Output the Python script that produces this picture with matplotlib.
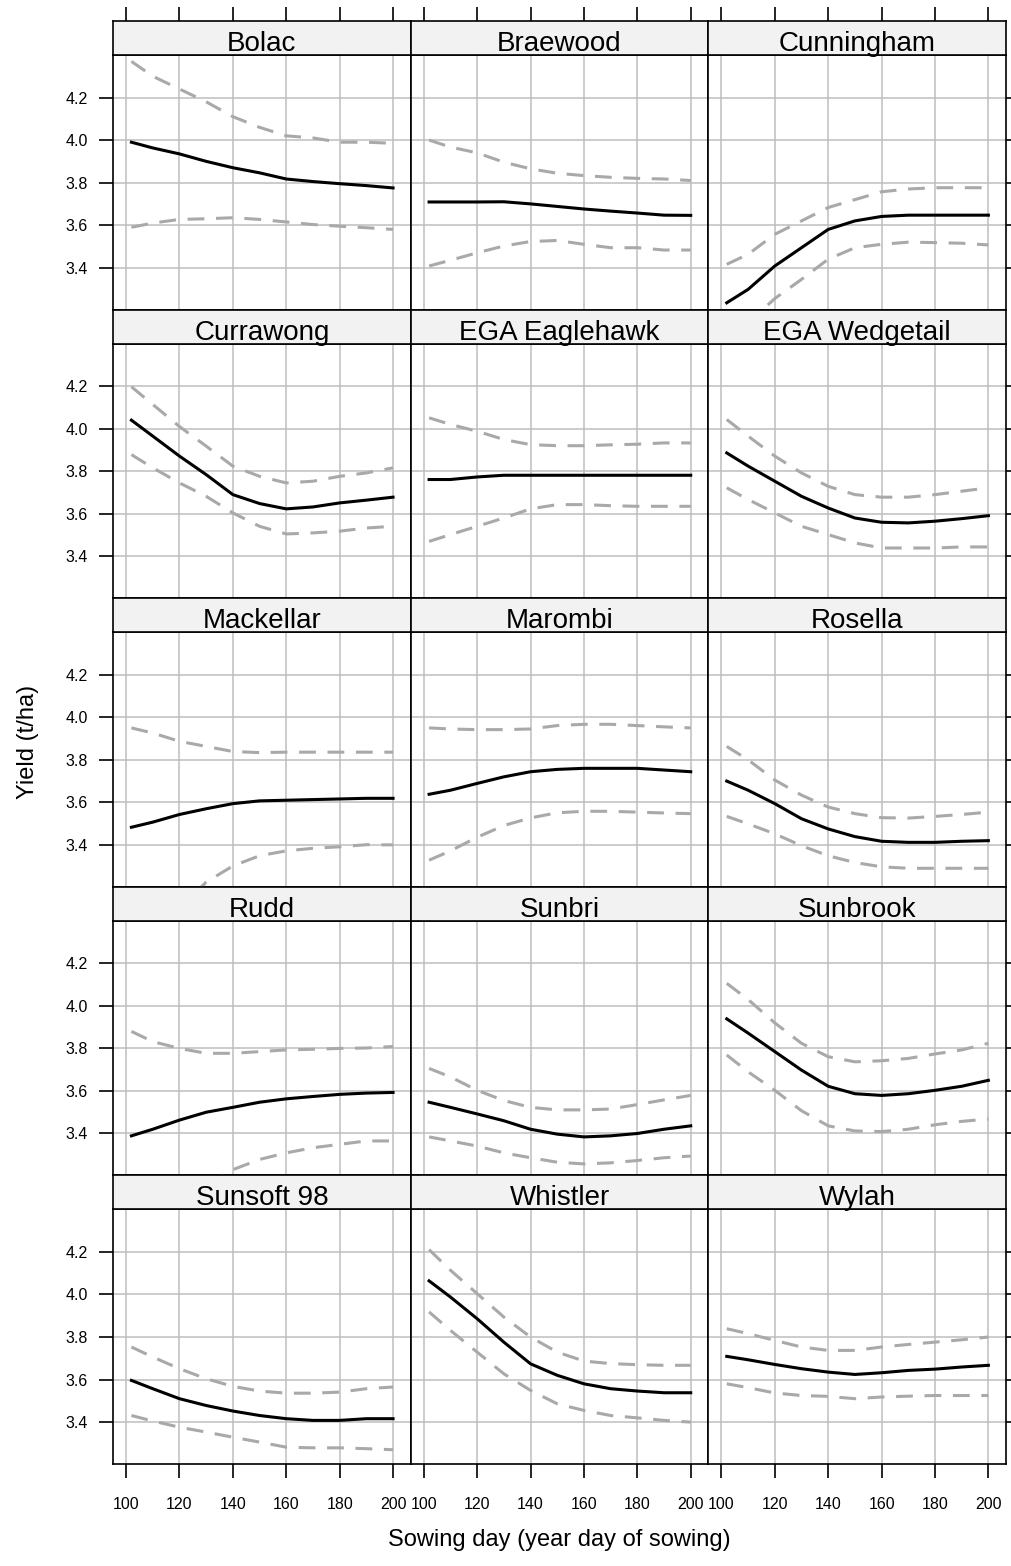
import matplotlib.pyplot as plt

plt.rcParams['font.family'] = ['Liberation Sans', 'DejaVu Sans']

# sowing days where the fitted curves were read
days = [102, 110, 120, 130, 140, 150, 160, 170, 180, 190, 200]

varieties = ['Bolac', 'Braewood', 'Cunningham',
             'Currawong', 'EGA Eaglehawk', 'EGA Wedgetail',
             'Mackellar', 'Marombi', 'Rosella',
             'Rudd', 'Sunbri', 'Sunbrook',
             'Sunsoft 98', 'Whistler', 'Wylah']

# fitted yield (t/ha)
fit = [
    [3.99, 3.963, 3.935, 3.90, 3.87, 3.846, 3.817, 3.805, 3.795, 3.786, 3.775],
    [3.709, 3.709, 3.709, 3.71, 3.70, 3.688, 3.676, 3.666, 3.657, 3.647, 3.646],
    [3.235, 3.298, 3.408, 3.494, 3.58, 3.62, 3.641, 3.647, 3.647, 3.647, 3.647],
    [4.04, 3.965, 3.871, 3.784, 3.69, 3.648, 3.623, 3.632, 3.651, 3.664, 3.678],
    [3.761, 3.761, 3.773, 3.781, 3.781, 3.781, 3.781, 3.781, 3.781, 3.781, 3.781],
    [3.886, 3.824, 3.753, 3.682, 3.627, 3.58, 3.56, 3.557, 3.565, 3.577, 3.591],
    [3.483, 3.507, 3.543, 3.57, 3.594, 3.607, 3.61, 3.613, 3.616, 3.619, 3.619],
    [3.638, 3.657, 3.689, 3.72, 3.744, 3.755, 3.76, 3.76, 3.76, 3.752, 3.744],
    [3.70, 3.657, 3.594, 3.523, 3.475, 3.439, 3.417, 3.412, 3.412, 3.417, 3.42],
    [3.389, 3.42, 3.463, 3.50, 3.523, 3.547, 3.563, 3.574, 3.584, 3.59, 3.593],
    [3.547, 3.523, 3.492, 3.46, 3.42, 3.397, 3.384, 3.389, 3.40, 3.42, 3.436],
    [3.939, 3.872, 3.785, 3.698, 3.622, 3.587, 3.579, 3.587, 3.603, 3.622, 3.65],
    [3.596, 3.557, 3.51, 3.478, 3.452, 3.431, 3.416, 3.408, 3.408, 3.416, 3.416],
    [4.064, 3.988, 3.886, 3.776, 3.674, 3.62, 3.58, 3.557, 3.546, 3.538, 3.538],
    [3.709, 3.693, 3.671, 3.651, 3.635, 3.624, 3.632, 3.643, 3.649, 3.659, 3.667],
]

# upper confidence limit
upper = [
    [4.37, 4.30, 4.24, 4.18, 4.11, 4.06, 4.02, 4.01, 3.99, 3.99, 3.985],
    [4.0, 3.967, 3.94, 3.896, 3.865, 3.844, 3.833, 3.825, 3.82, 3.817, 3.81],
    [3.416, 3.463, 3.557, 3.62, 3.683, 3.72, 3.757, 3.77, 3.776, 3.776, 3.776],
    [4.197, 4.114, 4.01, 3.918, 3.824, 3.776, 3.745, 3.753, 3.776, 3.792, 3.816],
    [4.051, 4.02, 3.988, 3.949, 3.925, 3.92, 3.92, 3.924, 3.927, 3.933, 3.933],
    [4.043, 3.965, 3.871, 3.792, 3.729, 3.69, 3.678, 3.678, 3.69, 3.706, 3.722],
    [3.95, 3.926, 3.887, 3.863, 3.839, 3.834, 3.836, 3.836, 3.836, 3.836, 3.836],
    [3.95, 3.945, 3.942, 3.942, 3.945, 3.961, 3.967, 3.967, 3.961, 3.955, 3.95],
    [3.863, 3.80, 3.705, 3.634, 3.578, 3.547, 3.528, 3.526, 3.534, 3.543, 3.554],
    [3.88, 3.832, 3.80, 3.777, 3.777, 3.785, 3.793, 3.796, 3.80, 3.802, 3.809],
    [3.706, 3.666, 3.603, 3.555, 3.523, 3.511, 3.511, 3.515, 3.536, 3.558, 3.579],
    [4.106, 4.03, 3.92, 3.824, 3.761, 3.737, 3.742, 3.753, 3.774, 3.793, 3.824],
    [3.753, 3.706, 3.651, 3.604, 3.568, 3.546, 3.536, 3.536, 3.541, 3.557, 3.565],
    [4.211, 4.114, 4.004, 3.894, 3.80, 3.729, 3.687, 3.675, 3.67, 3.667, 3.667],
    [3.839, 3.816, 3.784, 3.753, 3.737, 3.737, 3.753, 3.765, 3.776, 3.787, 3.80],
]

# lower confidence limit
lower = [
    [3.59, 3.61, 3.627, 3.63, 3.635, 3.627, 3.615, 3.603, 3.595, 3.588, 3.58],
    [3.408, 3.435, 3.47, 3.502, 3.523, 3.528, 3.51, 3.494, 3.494, 3.483, 3.483],
    [3.04, 3.14, 3.255, 3.345, 3.44, 3.494, 3.51, 3.52, 3.518, 3.515, 3.507],
    [3.878, 3.816, 3.745, 3.682, 3.604, 3.541, 3.505, 3.51, 3.518, 3.533, 3.541],
    [3.47, 3.502, 3.541, 3.58, 3.623, 3.643, 3.643, 3.638, 3.635, 3.635, 3.635],
    [3.722, 3.667, 3.604, 3.541, 3.502, 3.463, 3.439, 3.439, 3.439, 3.444, 3.444],
    [2.90, 2.98, 3.10, 3.225, 3.301, 3.349, 3.372, 3.384, 3.391, 3.401, 3.40],
    [3.328, 3.372, 3.436, 3.491, 3.527, 3.551, 3.558, 3.558, 3.554, 3.55, 3.547],
    [3.534, 3.499, 3.452, 3.396, 3.349, 3.317, 3.297, 3.29, 3.29, 3.29, 3.29],
    [3.00, 3.05, 3.10, 3.16, 3.23, 3.278, 3.309, 3.333, 3.349, 3.365, 3.365],
    [3.384, 3.365, 3.341, 3.309, 3.286, 3.265, 3.257, 3.262, 3.273, 3.286, 3.294],
    [3.769, 3.69, 3.603, 3.507, 3.436, 3.412, 3.409, 3.42, 3.441, 3.457, 3.468],
    [3.431, 3.405, 3.376, 3.353, 3.329, 3.306, 3.282, 3.279, 3.279, 3.275, 3.27],
    [3.918, 3.831, 3.729, 3.627, 3.549, 3.486, 3.455, 3.431, 3.42, 3.408, 3.40],
    [3.58, 3.562, 3.537, 3.525, 3.521, 3.51, 3.518, 3.522, 3.525, 3.525, 3.525],
]

x_ticks = [100, 120, 140, 160, 180, 200]
y_ticks = [3.4, 3.6, 3.8, 4.0, 4.2]

W, H = 1012, 1566
fig = plt.figure(figsize=(W / 100, H / 100), dpi=100)

# panel layout in pixels
left, right, top, bottom = 113, 1006, 21, 1464
ncol, nrow = 3, 5
cw = (right - left) / ncol
rh = (bottom - top) / nrow
strip_h = 34

for i, name in enumerate(varieties):
    r, c = divmod(i, ncol)
    x0 = left + c * cw
    y_strip = top + r * rh
    y_plot = y_strip + strip_h
    y_end = top + (r + 1) * rh

    ax = fig.add_axes([x0 / W, 1 - y_end / H, cw / W, (y_end - y_plot) / H])
    ax.plot(days, upper[i], color='#A9A9A9', lw=2.2, ls=(0, (5.5, 3.8)), zorder=3)
    ax.plot(days, lower[i], color='#A9A9A9', lw=2.2, ls=(0, (5.5, 3.8)), zorder=3)
    ax.plot(days, fit[i], color='black', lw=2.2, zorder=4)
    ax.set_xlim(95.1, 206.6)
    ax.set_ylim(3.203, 4.40)
    ax.set_xticks(x_ticks)
    ax.set_yticks(y_ticks)
    ax.grid(True, color='#BEBEBE', lw=1.1)
    ax.set_axisbelow(True)
    for sp in ax.spines.values():
        sp.set_linewidth(1.2)
    ax.tick_params(direction='out', length=10, width=1.2, labelsize=11.5)
    ax.tick_params(axis='y', left=(c == 0), labelleft=(c == 0),
                   right=(c == ncol - 1), labelright=False, pad=8)
    ax.set_yticklabels(['3.4', '3.6', '3.8', '4.0', '4.2'])
    ax.tick_params(axis='x', bottom=(r == nrow - 1), labelbottom=(r == nrow - 1),
                   top=False, labeltop=False, pad=14)

    sax = fig.add_axes([x0 / W, 1 - y_plot / H, cw / W, strip_h / H])
    sax.set_facecolor('#F2F2F2')
    sax.set_xlim(95.1, 206.6)
    sax.set_ylim(0, 1)
    sax.set_yticks([])
    for sp in sax.spines.values():
        sp.set_linewidth(1.2)
    if r == 0:
        sax.set_xticks(x_ticks)
        sax.tick_params(axis='x', top=True, labeltop=False, bottom=False,
                        labelbottom=False, direction='out', length=10, width=1.2)
    else:
        sax.set_xticks([])
    sax.text(0.5, 0.12, name, transform=sax.transAxes, ha='center',
             va='baseline', fontsize=20)

fig.text(28 / W, 1 - 742 / H, 'Yield (t/ha)', rotation=90, ha='center',
         va='center', fontsize=17)
fig.text((left + right) / 2 / W, 1 - 1540 / H, 'Sowing day (year day of sowing)',
         ha='center', va='center', fontsize=17)

fig.savefig('out.png', dpi=100)
